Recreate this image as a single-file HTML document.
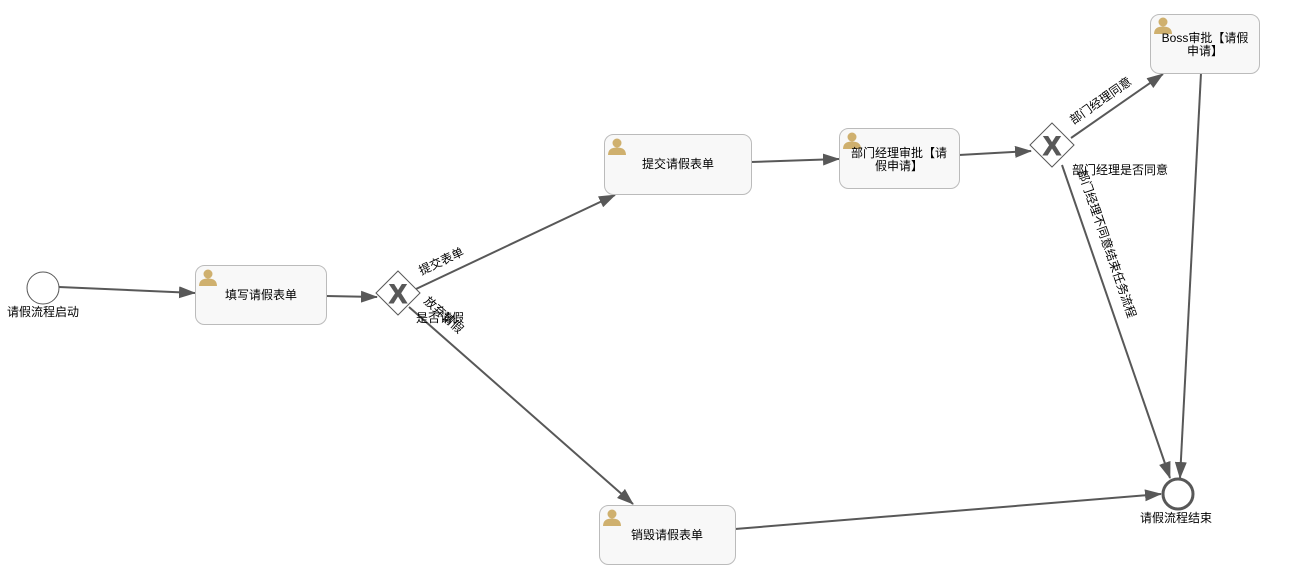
<!DOCTYPE html>
<html><head><meta charset="utf-8"><style>
html,body{margin:0;padding:0;background:#fff;}
svg{display:block;font-family:"Liberation Sans","Noto Sans CJK SC",sans-serif;}
</style></head><body>
<svg width="1295" height="573" viewBox="0 0 1295 573" xmlns="http://www.w3.org/2000/svg">
<defs>
<marker id="a" markerWidth="18" markerHeight="12" refX="16" refY="6" markerUnits="userSpaceOnUse" orient="auto">
<path d="M0,0 L17,6 L0,12 z" fill="#585858"/>
</marker>
<g id="u"><circle cx="9" cy="6" r="4.5" fill="#cfb06e"/><path d="M0,18 Q0,10.5 9,10.5 Q18,10.5 18,18 z" fill="#cfb06e"/></g>
</defs>
<g stroke="#585858" stroke-width="2" fill="none">
<line x1="59" y1="287" x2="195" y2="293" marker-end="url(#a)"/>
<line x1="326" y1="296" x2="377" y2="297" marker-end="url(#a)"/>
<line x1="416" y1="289" x2="615" y2="195" marker-end="url(#a)"/>
<line x1="409" y1="307" x2="633" y2="504" marker-end="url(#a)"/>
<line x1="751" y1="162" x2="839" y2="159" marker-end="url(#a)"/>
<line x1="959" y1="155" x2="1031" y2="151" marker-end="url(#a)"/>
<line x1="1071" y1="138" x2="1163" y2="74" marker-end="url(#a)"/>
<line x1="1062" y1="165" x2="1170" y2="478" marker-end="url(#a)"/>
<line x1="1201" y1="73" x2="1180" y2="478" marker-end="url(#a)"/>
<line x1="735" y1="529" x2="1161" y2="494" marker-end="url(#a)"/>
</g>
<circle cx="43" cy="288" r="16" fill="#fff" stroke="#585858" stroke-width="1"/>
<circle cx="1178" cy="494" r="15" fill="#fff" stroke="#585858" stroke-width="3"/>
<g fill="#f8f8f8" stroke="#bbb" stroke-width="1">
<rect x="195.5" y="265.5" width="131" height="59" rx="9"/>
<rect x="604.5" y="134.5" width="147" height="60" rx="9"/>
<rect x="839.5" y="128.5" width="120" height="60" rx="9"/>
<rect x="1150.5" y="14.5" width="109" height="59" rx="9"/>
<rect x="599.5" y="505.5" width="136" height="59" rx="9"/>
</g>
<use href="#u" x="199" y="268"/>
<use href="#u" x="608" y="137"/>
<use href="#u" x="843" y="131"/>
<use href="#u" x="1154" y="16"/>
<use href="#u" x="603" y="508"/>
<g fill="#fff" stroke="#585858" stroke-width="1">
<polygon points="398,271 420,293 398,315 376,293"/>
<polygon points="1052,123 1074,145 1052,167 1030,145"/>
</g>
<g font-family="Liberation Sans,sans-serif" font-weight="bold" font-size="27" fill="#585858" text-anchor="middle" stroke="#585858" stroke-width="1">
<text x="398" y="303">X</text><text x="1052" y="155">X</text>
</g>
<g font-size="12" fill="#000" text-anchor="middle">
<text x="261" y="299">填写请假表单</text>
<text x="678" y="168">提交请假表单</text>
<text x="899" y="157">部门经理审批【请</text>
<text x="899" y="170">假申请】</text>
<text x="1205" y="42">Boss审批【请假</text>
<text x="1205" y="55">申请】</text>
<text x="667" y="539">销毁请假表单</text>
</g>
<g font-size="12" fill="#000" text-anchor="middle">
<text x="43" y="316">请假流程启动</text>
<text x="1176" y="522">请假流程结束</text>
<text x="440" y="322">是否请假</text>
<text x="1120" y="174">部门经理是否同意</text>
<text transform="translate(443,265) rotate(-25)">提交表单</text>
<text transform="translate(441,318) rotate(42)">放弃请假</text>
<text transform="translate(1103,104) rotate(-35)">部门经理同意</text>
<text transform="translate(1103,245) rotate(71)">部门经理不同意结束任务流程</text>
</g>
</svg>
</body></html>
